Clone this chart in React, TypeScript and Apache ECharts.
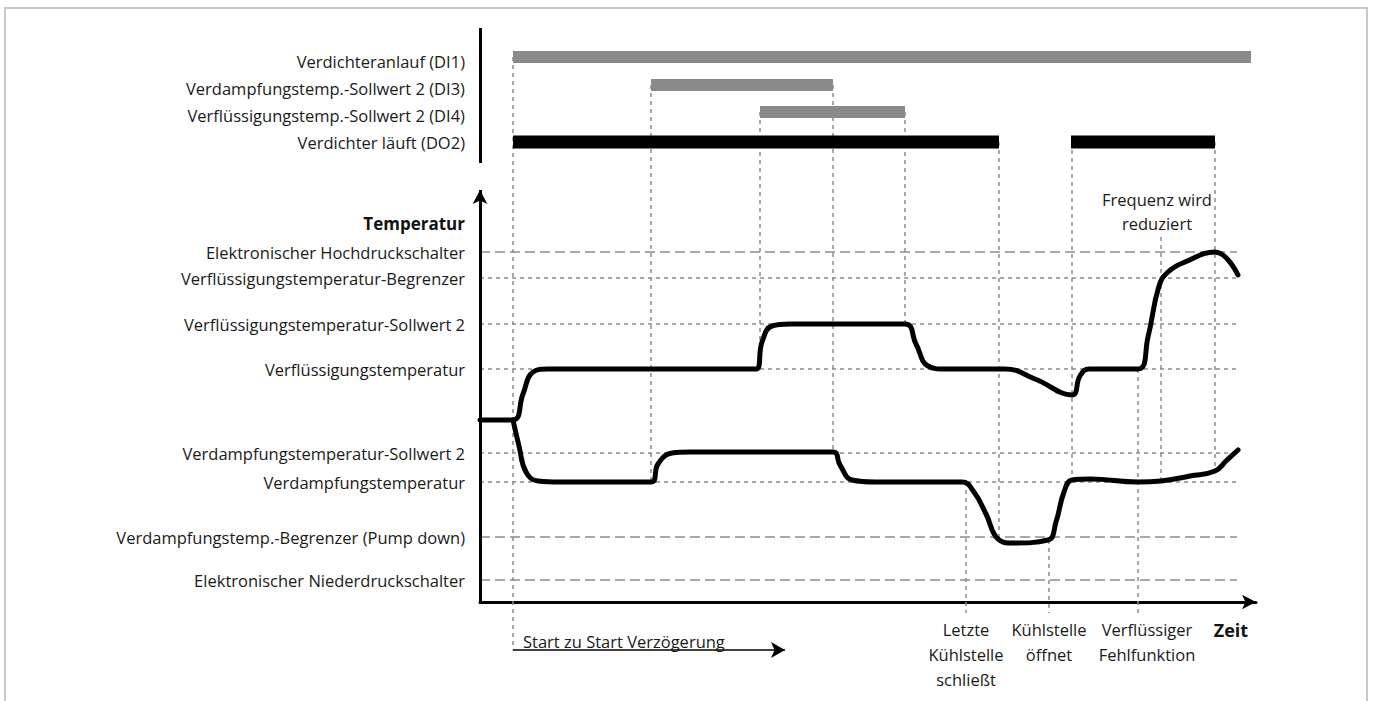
import React, { useEffect, useRef } from "react";
import * as echarts from "echarts";

// ---- data ----
const signalNames = [
  "Verdichteranlauf (DI1)",
  "Verdampfungstemp.-Sollwert 2 (DI3)",
  "Verflüssigungstemp.-Sollwert 2 (DI4)",
  "Verdichter läuft (DO2)",
];
const signalLabelValues = [54.1, 51.4, 48.7, 46.0];
const signalBarValues = [54.5, 51.7, 49.0, 46.0];
const signalSegments: number[][][] = [
  [[3.3, 77.1]],
  [[17.1, 35.3]],
  [[28.0, 42.5]],
  [[3.3, 51.9], [59.1, 73.5]],
];
const signalColors = ["#8a8a8a", "#8a8a8a", "#8a8a8a", "#000000"];

const axisTitle = "Temperatur";
const axisTitleValue = 37.9;
const levelNames = [
  "Elektronischer Hochdruckschalter",
  "Verflüssigungstemperatur-Begrenzer",
  "Verflüssigungstemperatur-Sollwert 2",
  "Verflüssigungstemperatur",
  "Verdampfungstemperatur-Sollwert 2",
  "Verdampfungstemperatur",
  "Verdampfungstemp.-Begrenzer (Pump down)",
  "Elektronischer Niederdruckschalter",
];
const levelValues = [35.0, 32.4, 27.8, 23.3, 14.9, 12.0, 6.5, 2.2];
const levelLongDash = [true, false, false, false, false, false, true, true];
const levelEnd = 75.7;

const condensingT = [0, 3.3, 4.3, 5.3, 6.8, 27.6, 28.2, 29.2, 31, 42.5, 43.6, 44.8, 46.5, 52.5, 55.5, 59.2, 60.0, 60.9, 65.8, 66.8, 67.9, 68.8, 70.5, 73.5, 75.8];
const condensingV = [18.2, 18.2, 20.8, 23.0, 23.3, 23.3, 26.0, 27.6, 27.8, 27.8, 25.8, 23.6, 23.3, 23.3, 22.3, 20.7, 22.6, 23.3, 23.3, 26.5, 31.6, 33.0, 34.0, 35.0, 32.7];

const evaporatingT = [3.3, 3.9, 4.6, 5.8, 8, 17.1, 17.8, 19.2, 21, 35.3, 36.0, 37.2, 39.5, 48.2, 49.4, 50.6, 51.8, 53.2, 56.8, 57.6, 58.4, 59.2, 61, 65.8, 68.1, 71.0, 73.5, 74.7, 75.8];
const evaporatingV = [18.2, 15.6, 13.0, 12.1, 12.0, 12.0, 13.8, 14.9, 15.0, 15.0, 13.7, 12.2, 12.0, 12.0, 11.0, 8.8, 6.3, 5.9, 6.2, 8.0, 11.0, 12.2, 12.3, 12.0, 12.1, 12.6, 13.1, 14.2, 15.2];

// vertical guides: [time, from, to]
const guides = [
  [3.3, 54.5, -4.8],
  [17.1, 51.7, 12.0],
  [28.0, 49.0, 23.3],
  [35.3, 51.7, 15.0],
  [42.5, 49.0, 27.8],
  [51.9, 46.0, 6.2],
  [59.2, 46.0, 12.4],
  [73.5, 46.0, 13.1],
  [48.6, 12.0, -1.1],
  [56.9, 6.2, -1.1],
  [65.8, 23.3, -1.1],
  [68.1, 36.5, 12.1],
];

const eventValues = [48.6, 56.9, 66.7, 75.1];
const eventLabels = ["Letzte\nKühlstelle\nschließt", "Kühlstelle\nöffnet", "Verflüssiger\nFehlfunktion", "Zeit"];

const delayText = "Start zu Start Verzögerung";
const delayStart = 3.3;
const delayEnd = 30.5;
const delayLevel = -4.8;
const freqText = "Frequenz wird\nreduziert";
const freqPos = [67.7, 39.1];

const FONT = "'Open Sans', sans-serif";
const FS = 16.5;
const TXT = "#1a1a1a";

export default function App() {
  const ref = useRef<HTMLDivElement>(null);
  useEffect(() => {
    const chart = echarts.init(ref.current!, null, { renderer: "svg" });
    const yLabelValues = [...signalLabelValues, axisTitleValue, ...levelValues];
    const yLabelTexts = [...signalNames, "{b|" + axisTitle + "}", ...levelNames];
    const dotted = { color: "#8c8c8c", width: 1.5, type: [4, 4] as any };
    const markData: any[] = [];
    guides.forEach((g) =>
      markData.push([
        { coord: [g[0], g[1]], lineStyle: dotted },
        { coord: [g[0], g[2]] },
      ])
    );
    levelValues.forEach((v, i) =>
      markData.push([
        {
          coord: [0, v],
          lineStyle: { color: "#8c8c8c", width: 1.5, type: levelLongDash[i] ? [10, 5] : [4, 4] },
        },
        { coord: [levelEnd, v] },
      ])
    );
    const axisStyle = { color: "#000", width: 3, type: "solid" };
    markData.push([{ coord: [0, 57.4], lineStyle: axisStyle }, { coord: [0, 43.9] }]);
    markData.push([
      { coord: [0, 0], lineStyle: axisStyle, symbol: "none" },
      { coord: [0, 41.2], symbol: "arrow", symbolSize: [11, 14] },
    ]);
    markData.push([
      { coord: [delayStart, delayLevel], lineStyle: { color: "#000", width: 1.5, type: "solid" }, symbol: "none" },
      { coord: [delayEnd, delayLevel], symbol: "arrow", symbolSize: [12, 14] },
    ]);

    const barSeries: any[] = [];
    signalSegments.forEach((segs, i) =>
      segs.forEach((s) =>
        barSeries.push({
          type: "line",
          data: [
            [s[0], signalBarValues[i]],
            [s[1], signalBarValues[i]],
          ],
          showSymbol: false,
          silent: true,
          zlevel: 1,
          z: 3,
          lineStyle: { color: signalColors[i], width: i === 3 ? 13 : 12, cap: "butt" },
        })
      )
    );

    const curve = (name: string, ts: number[], vs: number[]) => ({
      name,
      type: "line",
      data: ts.map((t, i) => [t, vs[i]]),
      smooth: 0.45,
      showSymbol: false,
      silent: true,
      zlevel: 1,
      z: 4,
      lineStyle: { color: "#000", width: 5, join: "round", cap: "round" },
    });

    chart.setOption({
      animation: false,
      textStyle: { fontFamily: FONT },
      graphic: [
        {
          type: "rect",
          shape: { x: 5, y: 8, width: 1362, height: 720 },
          style: { fill: "none", stroke: "#c8c8cc", lineWidth: 2 },
          silent: true,
        },
      ],
      grid: { left: 480, right: 119, top: 20, bottom: 1, outerBoundsMode: "none", containLabel: false },
      xAxis: {
        type: "value",
        min: 0,
        max: 77.6,
        position: "bottom",
        offset: -98,
        axisLine: {
          show: true,
          onZero: false,
          symbol: ["none", "arrow"],
          symbolSize: [11, 14],
          lineStyle: { color: "#000", width: 3 },
        },
        axisTick: { show: false },
        splitLine: { show: false },
        axisLabel: {
          customValues: eventValues,
          margin: 15,
          fontSize: FS,
          lineHeight: 25,
          color: TXT,
          fontFamily: FONT,
          formatter: (v: number) => {
            const i = eventValues.findIndex((e) => Math.abs(e - v) < 1e-6);
            if (i < 0) return "";
            return i === 3 ? "{b|" + eventLabels[i] + "}" : eventLabels[i];
          },
          rich: { b: { fontWeight: "bold", fontSize: 18, fontFamily: FONT, color: "#111" } },
        },
      },
      yAxis: {
        type: "value",
        min: -9.8,
        max: 58.2,
        axisLine: { show: false },
        axisTick: { show: false },
        splitLine: { show: false },
        axisLabel: {
          customValues: yLabelValues,
          margin: 15,
          fontSize: FS,
          color: TXT,
          fontFamily: FONT,
          formatter: (v: number) => {
            const i = yLabelValues.findIndex((e) => Math.abs(e - v) < 1e-6);
            return i < 0 ? "" : yLabelTexts[i];
          },
          rich: { b: { fontWeight: "bold", fontSize: 17, fontFamily: FONT, color: "#111" } },
        },
      },
      series: [
        {
          type: "line",
          data: [],
          silent: true,
          z: 1,
          markLine: {
            silent: true,
            symbol: ["none", "none"],
            label: { show: false },
            data: markData,
          },
          markPoint: {
            silent: true,
            symbolSize: 0,
            data: [
              {
                coord: freqPos,
                label: {
                  show: true,
                  position: "inside",
                  formatter: freqText,
                  fontSize: FS,
                  lineHeight: 24,
                  color: TXT,
                  fontFamily: FONT,
                },
              },
              {
                coord: [delayStart + 1.0, delayLevel + 0.9],
                label: {
                  show: true,
                  position: "right",
                  distance: 0,
                  formatter: delayText,
                  fontSize: FS,
                  color: TXT,
                  fontFamily: FONT,
                },
              },
            ],
          },
        },
        ...barSeries,
        curve("Verflüssigungstemperatur", condensingT, condensingV),
        curve("Verdampfungstemperatur", evaporatingT, evaporatingV),
      ],
    });
    return () => chart.dispose();
  }, []);
  return (
    <div
      ref={ref}
      style={{ position: "fixed", left: 0, top: 0, width: 1375, height: 701, background: "#fff" }}
    />
  );
}
